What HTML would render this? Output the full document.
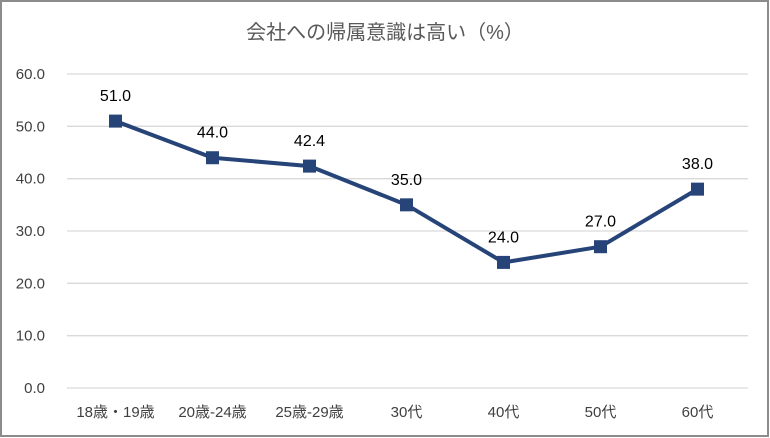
<!DOCTYPE html>
<html><head><meta charset="utf-8"><style>
body{margin:0;background:#fff;}
svg{display:block;font-family:"Liberation Sans","Noto Sans CJK JP",sans-serif;}
</style></head><body>
<svg id="c" width="770" height="438">
<rect x="1" y="1" width="767" height="435" fill="#fff" stroke="#8c8c8c" stroke-width="2"/>
<text x="385" y="39" text-anchor="middle" font-size="20" fill="#595959">会社への帰属意識は高い（%）</text>
<g id="grid"></g><g id="yt"></g><g id="xt"></g><g id="series"></g>
</svg>
<script>
const categories=["18歳・19歳","20歳-24歳","25歳-29歳","30代","40代","50代","60代"];
const values=[51.0,44.0,42.4,35.0,24.0,27.0,38.0];
const yTicks=[0,10,20,30,40,50,60];
const NS="http://www.w3.org/2000/svg";
const L=67,R=746,T=74,B=388,yMax=60;
const x=i=>L+(R-L)/categories.length*(i+0.5);
const y=v=>B-(B-T)*v/yMax;
function mk(t,a,p){const e=document.createElementNS(NS,t);for(const k in a)e.setAttribute(k,a[k]);document.getElementById(p).appendChild(e);return e;}
yTicks.forEach(v=>{
 const g=mk("line",{x1:L,x2:R+2,y1:y(v),y2:y(v),stroke:"#d9d9d9","stroke-width":1.3},"grid");
 
 
 const t=mk("text",{x:45,y:y(v)+5,"text-anchor":"end","font-size":15,fill:"#404040"},"yt");
 t.textContent=v.toFixed(1);
 
 
});
categories.forEach((c,i)=>{
 const t=mk("text",{x:x(i),y:417,"text-anchor":"middle","font-size":15,fill:"#404040"},"xt");
 t.textContent=c;
 
 
});
const pl=mk("polyline",{points:values.map((v,i)=>x(i)+","+y(v)).join(" "),fill:"none",stroke:"#264478","stroke-width":4,"stroke-linejoin":"round"},"series");


values.forEach((v,i)=>{
 const r=mk("rect",{x:x(i)-6.5,y:y(v)-6.5,width:13,height:13,fill:"#264478"},"series");
 
 
 const t=mk("text",{x:x(i),y:y(v)-20,"text-anchor":"middle","font-size":16,fill:"#000"},"series");
 t.textContent=v.toFixed(1);
 
 
});
</script>
</body></html>
